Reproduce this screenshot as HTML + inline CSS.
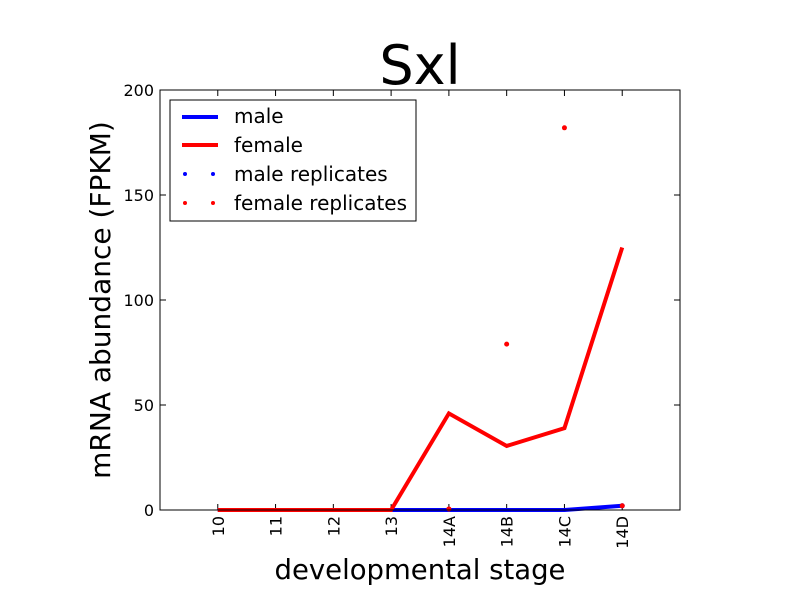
<!DOCTYPE html>
<html><head><meta charset="utf-8"><style>body{margin:0;background:#fff}svg{display:block;font-family:"DejaVu Sans","Liberation Sans",sans-serif}</style></head>
<body>
<svg id="chart" width="800" height="600" xmlns="http://www.w3.org/2000/svg">
<rect width="800" height="600" fill="#fff"/>
<text x="420" y="84" font-size="54" text-anchor="middle">Sxl</text>
<text x="420" y="579" font-size="27.5" text-anchor="middle">developmental stage</text>
<text transform="translate(110,300) rotate(-90)" font-size="28" text-anchor="middle">mRNA abundance (FPKM)</text>
<g id="plot"></g>
<rect x="160" y="90" width="520" height="420" fill="none" stroke="#000" stroke-width="1"/>
<g>
<rect x="170" y="100" width="246" height="121" fill="#fff" stroke="#000"/>
<g><line x1="182" y1="117" x2="218" y2="117" stroke="#00f" stroke-width="4"/><text x="234" y="123" font-size="20">male</text></g>
<g><line x1="182" y1="145" x2="218" y2="145" stroke="#f00" stroke-width="4"/><text x="234" y="152" font-size="20">female</text></g>
<g><circle cx="185" cy="174" r="2" fill="#00f"/><circle cx="213" cy="174" r="2" fill="#00f"/><text x="234" y="181" font-size="20">male replicates</text></g>
<g><circle cx="185" cy="203" r="2" fill="#f00"/><circle cx="213" cy="203" r="2" fill="#f00"/><text x="234" y="210" font-size="20">female replicates</text></g>
</g>
</svg>
<script>
const categories=["10","11","12","13","14A","14B","14C","14D"];
const maleValues=[0,0,0,0,0,0,0,2];
const femaleValues=[0,0,0,0,46,30.5,39,125];
const maleRepX=["14D"];
const maleRepY=[2];
const femaleRepX=["14A","14B","14C","14D"];
const femaleRepY=[0.5,79,182,2];
const yTicks=[0,50,100,150,200];

const NS="http://www.w3.org/2000/svg";
const g=document.getElementById("plot");
const x=i=>160+(i+1)*520/9;
const y=v=>510-v*420/200;
function mk(t,a){const e=document.createElementNS(NS,t);for(const k in a)e.setAttribute(k,a[k]);g.appendChild(e);return e;}
yTicks.forEach(v=>{
  const l=mk("line",{x1:160,x2:166,y1:y(v),y2:y(v),stroke:"#000"});
  
  
  const l2=mk("line",{x1:674,x2:680,y1:y(v),y2:y(v),stroke:"#000"});
  
  
  const t=mk("text",{x:154,y:y(v)+6,"font-size":16,"text-anchor":"end"});
  t.textContent=v;
  
  
});
categories.forEach((c,i)=>{
  const l=mk("line",{x1:x(i),x2:x(i),y1:510,y2:504,stroke:"#000"});
  
  
  const l2=mk("line",{x1:x(i),x2:x(i),y1:90,y2:96,stroke:"#000"});
  
  
  const t=mk("text",{transform:`translate(${x(i)+6},516) rotate(-90)`,"font-size":16,"text-anchor":"end"});
  t.textContent=c;
  
  
});
function line(vals,col,name){
  const p=mk("polyline",{points:vals.map((v,i)=>x(i)+","+y(v)).join(" "),fill:"none",stroke:col,"stroke-width":4,"stroke-linejoin":"miter"});
  
  
}
line(maleValues,"#00f","male-line");
line(femaleValues,"#f00","female-line");
function dots(xs,ys,col,name){
  xs.forEach((c,k)=>{
    const d=mk("circle",{cx:x(categories.indexOf(c)),cy:y(ys[k]),r:2.5,fill:col});
    
    
  });
}
dots(maleRepX,maleRepY,"#00f","male-replicate-point");
dots(femaleRepX,femaleRepY,"#f00","female-replicate-point");
</script>
</body></html>
